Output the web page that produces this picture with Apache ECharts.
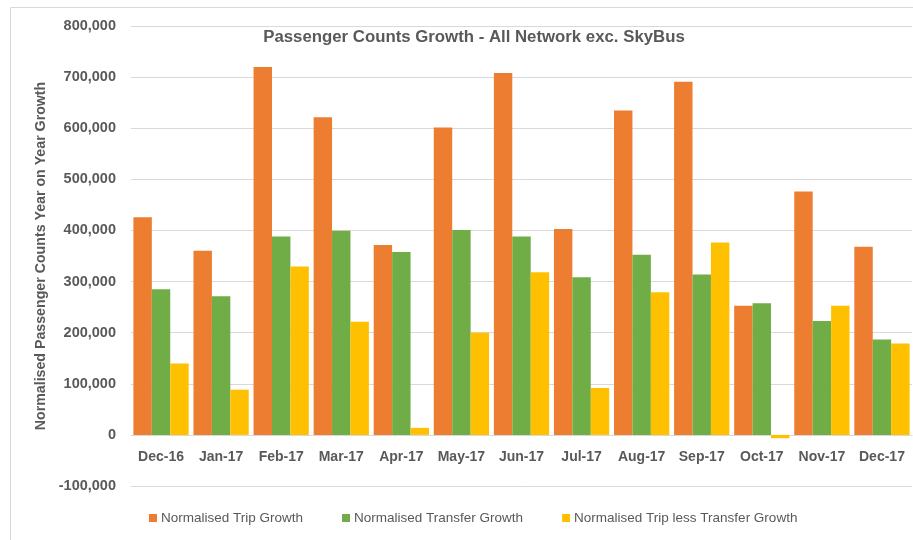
<!DOCTYPE html>
<html>
<head>
<meta charset="utf-8">
<script src="https://cdn.jsdelivr.net/npm/echarts@6/dist/echarts.min.js"></script>
<style>
  html, body { margin: 0; padding: 0; background: #ffffff; }
  #chart { width: 913px; height: 540px; }
</style>
</head>
<body>
<div id="chart"></div>
<script>
// Monthly year-on-year growth in normalised passenger counts
const months = ['Dec-16', 'Jan-17', 'Feb-17', 'Mar-17', 'Apr-17', 'May-17', 'Jun-17',
                'Jul-17', 'Aug-17', 'Sep-17', 'Oct-17', 'Nov-17', 'Dec-17'];
const tripGrowth = [425700, 360100, 719700, 621400, 371300, 601200, 707900,
                    402700, 634600, 690900, 252800, 476000, 368000];
const transferGrowth = [284900, 271100, 388300, 399500, 357600, 400800, 388300,
                        308400, 352300, 313700, 257400, 222600, 186600];
const tripLessTransfer = [139500, 88400, 329400, 221300, 13800, 199700, 318300,
                          91700, 279000, 376600, -6500, 252800, 178800];
const seriesNames = ['Normalised Trip Growth', 'Normalised Transfer Growth',
                     'Normalised Trip less Transfer Growth'];
const seriesColors = ['#ED7D31', '#70AD47', '#FFC000'];
const axisMin = -100000, axisMax = 800000, axisStep = 100000;

const labelColor = '#595959';
const fontFamily = '"Liberation Sans", Arial, sans-serif';

// Plot area (px)
const gridTop = 26, gridBottom = 54, chartHeight = 540;
const plotHeight = chartHeight - gridTop - gridBottom;
// Category axis sits on the zero line: shift it up from the plot's bottom edge
const zeroOffset = -plotHeight * (0 - axisMin) / (axisMax - axisMin);

const chart = echarts.init(document.getElementById('chart'), null, { renderer: 'canvas' });

const fmt = v => v.toLocaleString('en-US');

chart.setOption({
  backgroundColor: '#ffffff',
  animation: false,
  graphic: [{
    type: 'rect',
    shape: { x: 10.5, y: 7.5, width: 1000, height: 600 },
    style: { fill: 'none', stroke: '#d9d9d9', lineWidth: 1 },
    silent: true,
    z: -1
  }],
  title: {
    text: 'Passenger Counts Growth - All Network exc. SkyBus',
    left: 469,
    top: 24,
    textAlign: 'center',
    textStyle: { color: labelColor, fontSize: 16.8, fontWeight: 'bold', fontFamily }
  },
  legend: {
    data: seriesNames,
    left: 144,
    top: 506,
    itemWidth: 8,
    itemHeight: 8,
    itemGap: 39,
    icon: 'rect',
    textStyle: { color: labelColor, fontSize: 13.5, fontFamily, padding: [0, 0, 0, -1] }
  },
  grid: { left: 131, right: 1, top: gridTop, bottom: gridBottom, containLabel: false },
  xAxis: {
    type: 'category',
    data: months,
    position: 'bottom',
    offset: zeroOffset,
    axisTick: { show: false },
    axisLine: { onZero: false, lineStyle: { color: '#d9d9d9', width: 1 } },
    axisLabel: { interval: 0, color: labelColor, fontSize: 14, fontWeight: 'bold', fontFamily, margin: 15 }
  },
  yAxis: {
    type: 'value',
    min: axisMin,
    max: axisMax,
    interval: axisStep,
    name: 'Normalised Passenger Counts Year on Year Growth',
    nameLocation: 'middle',
    nameGap: 74,
    nameTextStyle: { color: labelColor, fontSize: 14.2, fontWeight: 'bold', fontFamily },
    axisLine: { show: false },
    axisTick: { show: false },
    splitLine: { lineStyle: { color: '#d9d9d9', width: 1 } },
    axisLabel: { color: labelColor, fontSize: 14.5, fontWeight: 'bold', fontFamily, margin: 15,
                 formatter: v => fmt(v) }
  },
  series: [tripGrowth, transferGrowth, tripLessTransfer].map((d, i) => ({
    name: seriesNames[i],
    type: 'bar',
    data: d,
    barGap: '0%',
    barCategoryGap: '8%',
    itemStyle: { color: seriesColors[i] }
  }))
});
</script>
</body>
</html>
